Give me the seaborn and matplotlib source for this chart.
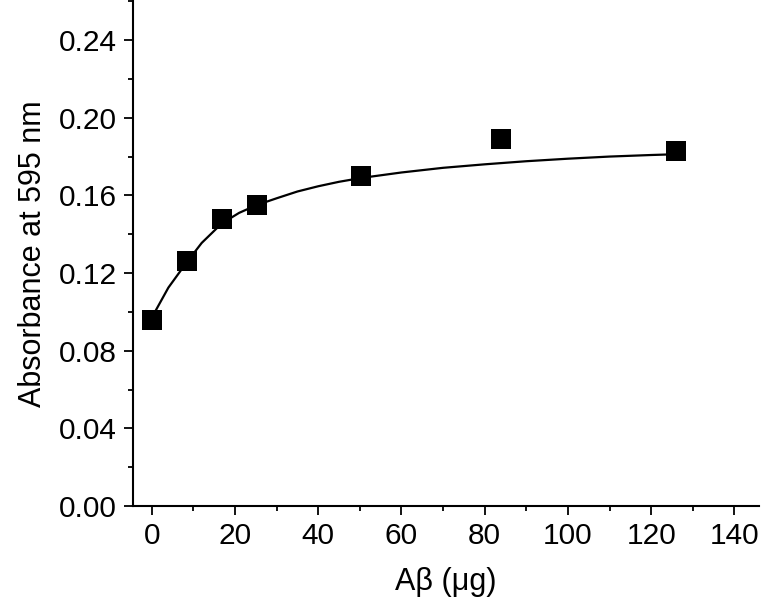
import numpy as np
import pandas as pd
import matplotlib
matplotlib.use("Agg")
import matplotlib.pyplot as plt
import seaborn as sns
from matplotlib.ticker import MultipleLocator, FormatStrFormatter

# measured points
abeta_ug = [0, 8.4, 16.8, 25.2, 50.4, 84, 126]
absorbance = [0.096, 0.126, 0.148, 0.155, 0.170, 0.189, 0.183]

# fitted curve
fit_x = [0, 4, 8.4, 12, 16.8, 21, 25.2, 30, 35, 40, 45, 50.4, 60, 70, 80, 90, 100, 110, 120, 126]
fit_y = [0.097, 0.1125, 0.1255, 0.1355, 0.1455, 0.1510, 0.1550, 0.1585, 0.1620, 0.1647,
         0.1670, 0.1690, 0.1718, 0.1742, 0.1760, 0.1776, 0.1789, 0.1800, 0.1808, 0.1812]

x_ticks = [0, 20, 40, 60, 80, 100, 120, 140]
y_ticks = [0.00, 0.04, 0.08, 0.12, 0.16, 0.20, 0.24]

sns.set_style("ticks")
plt.rcParams['font.family'] = ['Liberation Sans', 'DejaVu Sans']
plt.rcParams['text.color'] = 'black'
plt.rcParams['axes.labelcolor'] = 'black'

pts = pd.DataFrame({"x": abeta_ug, "y": absorbance})
fit = pd.DataFrame({"x": fit_x, "y": fit_y})

fig = plt.figure(figsize=(7.61, 6.03), dpi=100)
ax = fig.add_axes([0.1748, 0.1609, 0.823, 0.837])

sns.lineplot(data=fit, x="x", y="y", color="black", linewidth=1.6, ax=ax, sort=False)
sns.scatterplot(data=pts, x="x", y="y", marker="s", s=225, color="black",
                linewidth=0, ax=ax, zorder=3)

ax.set_xlim(-4.5, 146)
ax.set_ylim(0, 0.26)
ax.set_xticks(x_ticks)
ax.set_yticks(y_ticks)
ax.xaxis.set_minor_locator(MultipleLocator(10))
ax.yaxis.set_minor_locator(MultipleLocator(0.02))
ax.yaxis.set_major_formatter(FormatStrFormatter("%.2f"))

for side in ["top", "right"]:
    ax.spines[side].set_visible(False)
for side in ["left", "bottom"]:
    ax.spines[side].set_linewidth(1.5)
    ax.spines[side].set_color("black")

ax.tick_params(which="major", direction="out", length=6.5, width=1.3,
               labelsize=21.5, pad=5, colors="black", labelcolor="black")
ax.tick_params(which="minor", direction="out", length=3.6, width=1.3, colors="black")

ax.set_xlabel("Aβ (μg)", fontsize=22, labelpad=12, color="black")
ax.set_ylabel("Absorbance at 595 nm", fontsize=22, labelpad=8, color="black")

fig.savefig("out.png", dpi=100)
